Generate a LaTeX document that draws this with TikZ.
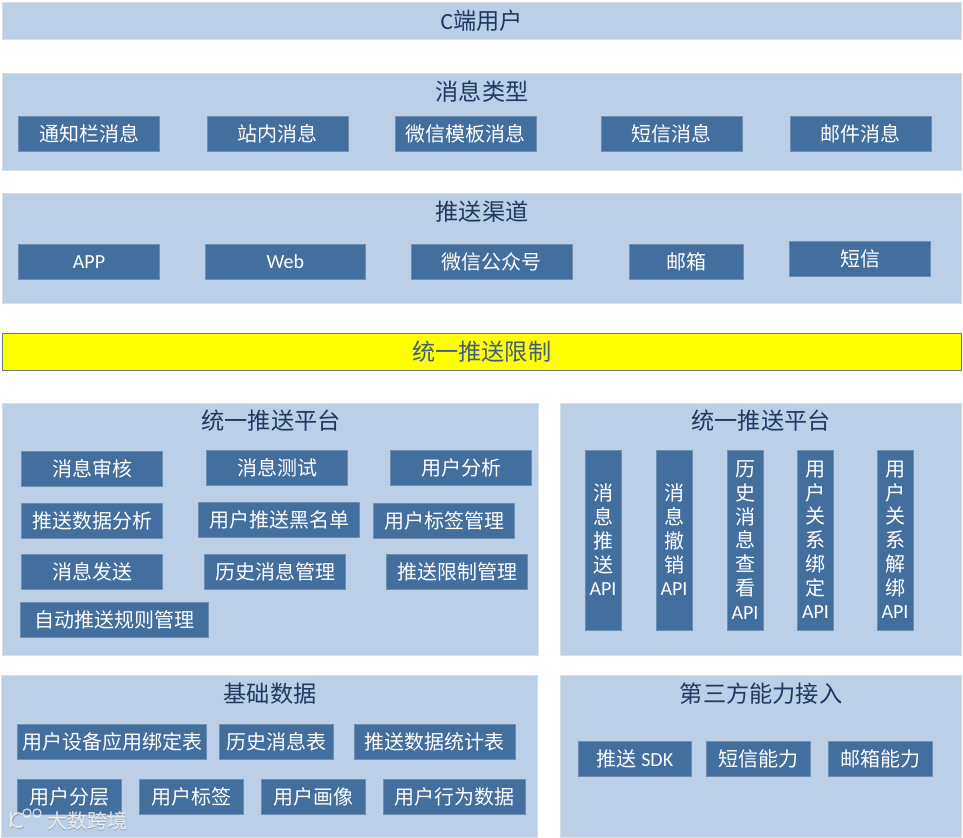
\documentclass[tikz,border=0pt]{standalone}
\usepackage{fontspec}
\setmainfont{Noto Sans CJK SC}
\newfontfamily\latinfont{Carlito}
\usetikzlibrary{positioning}
\definecolor{PanelBlue}{HTML}{BBCFE7}
\definecolor{PanelEdge}{HTML}{D8DEE8}
\definecolor{CellBlue}{HTML}{426F9E}
\definecolor{CellEdge}{HTML}{6F8FB0}
\definecolor{TitleNavy}{HTML}{1F3864}
\definecolor{LimitEdge}{HTML}{5F7A80}
\definecolor{LimitYellow}{HTML}{FFFF00}
\definecolor{LimitText}{HTML}{3F5F80}

\begin{document}
\begin{tikzpicture}[
  x=0.75pt, y=-0.75pt,
  panel/.style={draw=PanelEdge, fill=PanelBlue, anchor=north west, inner sep=0pt, outer sep=0pt},
  heading/.style={text=TitleNavy, font=\fontsize{17.4}{20}\selectfont, inner sep=0pt},
  cell/.style={draw=CellEdge, fill=CellBlue, text=white, inner sep=0pt, outer sep=0pt,
               minimum width=106pt, minimum height=26.5pt, align=center,
               font=\fontsize{15}{17.8}\selectfont},
  wide/.style={cell, minimum width=120.5pt},
  small/.style={cell, minimum width=78pt},
  tall/.style={cell, anchor=north west, minimum width=27pt, minimum height=135pt},
  markink/.style={opacity=.7, line width=1.5pt}
]
\useasboundingbox (0,0) rectangle (963,838);

% panels
\node[panel, minimum width=719.5pt, minimum height=28pt] (user) at (2,2) {};
\node[panel, minimum width=719.5pt, minimum height=73pt] (types) at (2,73) {};
\node[panel, minimum width=719.5pt, minimum height=83pt] (channels) at (2,193) {};
\node[panel, draw=LimitEdge, fill=LimitYellow, minimum width=719.5pt, minimum height=28pt] (limit) at (2,333) {};
\node[panel, minimum width=402.5pt, minimum height=189.5pt] (platform) at (2,403) {};
\node[panel, minimum width=301pt, minimum height=189.5pt] (apis) at (560,403) {};
\node[panel, minimum width=402pt, minimum height=121.5pt] (base) at (1,675) {};
\node[panel, minimum width=301pt, minimum height=121.5pt] (third) at (560,675) {};

% headings
\node[heading] (usertitle) at (user.center) {{\latinfont C}端用户};
\node[heading] (typestitle) at (482,92) {消息类型};
\node[heading] (channelstitle) at (482,212) {推送渠道};
\node[heading, text=LimitText] (limittitle) at (limit.center) {统一推送限制};
\node[heading] (platformtitle) at (271,421) {统一推送平台};
\node[heading] (apistitle) at (761,421) {统一推送平台};
\node[heading] (basetitle) at (270,694) {基础数据};
\node[heading] (thirdtitle) at (761,694) {第三方能力接入};

% message types
\node[cell] (notice) at (89,134) {通知栏消息};
\node[cell, right=35.5pt of notice] (inbox) {站内消息};
\node[cell, right=35pt of inbox] (wechatmsg) {微信模板消息};
\node[cell, right=48.5pt of wechatmsg] (smsmsg) {短信消息};
\node[cell, right=35.75pt of smsmsg] (mailmsg) {邮件消息};

% channels
\node[cell] (app) at (89,262) {\latinfont APP};
\node[wide, right=34pt of app] (web) {\latinfont Web};
\node[wide, right=34.25pt of web] (wechat) {微信公众号};
\node[cell, minimum width=85pt, right=43.25pt of wechat] (mailbox) {邮箱};
\node[cell] (sms) at (860,259) {短信};

% platform
\node[cell] (audit) at (92,469) {消息审核};
\node[cell] (test) at (277,468) {消息测试};
\node[cell] (analysis) at (461,468) {用户分析};
\node[cell] (pushstat) at (92,521) {推送数据分析};
\node[wide] (blacklist) at (279,520) {用户推送黑名单};
\node[cell] (tagmanage) at (444,521) {用户标签管理};
\node[cell] (send) at (92,572) {消息发送};
\node[cell] (history) at (275,572) {历史消息管理};
\node[cell] (limitmanage) at (457,572) {推送限制管理};
\node[cell, minimum width=141pt] (rules) at (114.5,620) {自动推送规则管理};

% apis
\node[tall] (pushapi) at (585,450) {消\\息\\推\\送\\{\latinfont API}};
\node[tall] (revokeapi) at (656,450) {消\\息\\撤\\销\\{\latinfont API}};
\node[tall] (historyapi) at (727,450) {历\\史\\消\\息\\查\\看\\{\latinfont API}};
\node[tall] (bindapi) at (797.5,450) {用\\户\\关\\系\\绑\\定\\{\latinfont API}};
\node[tall] (unbindapi) at (877,450) {用\\户\\关\\系\\解\\绑\\{\latinfont API}};

% base data
\node[cell, minimum width=141.5pt] (devicebind) at (112,742) {用户设备应用绑定表};
\node[cell, minimum width=85.5pt] (historytable) at (276,742) {历史消息表};
\node[wide] (stattable) at (434.5,742) {推送数据统计表};
\node[small] (layer) at (69.5,797) {用户分层};
\node[small, right=13.5pt of layer] (tag) {用户标签};
\node[small, right=13.5pt of tag] (portrait) {用户画像};
\node[cell, right=13.5pt of portrait] (behavior) {用户行为数据};

% third party
\node[cell, minimum width=85pt] (sdk) at (635,759) {推送 {\latinfont SDK}};
\node[small, right=11pt of sdk] (smscap) {短信能力};
\node[small, right=13.5pt of smscap] (mailcap) {邮箱能力};

% watermark
\node[text=gray, opacity=.6, font=\fontsize{15}{18}\selectfont, inner sep=0pt] (markshadow) at (87.8,821.8) {大数跨境};
\node[text=white, opacity=.8, font=\fontsize{15}{18}\selectfont, inner sep=0pt] (mark) at (87,821) {大数跨境};
\draw[markink, gray] (23.5,826.3) arc (50:310:7) (11.8,813) -- (11.8,828);
\draw[markink, white] (22.8,825.6) arc (50:310:7) (11,812.3) -- (11,827.3);
\draw[markink, white, line width=1pt] (27,813) circle (4) (37,813) circle (4);
\end{tikzpicture}
\end{document}
